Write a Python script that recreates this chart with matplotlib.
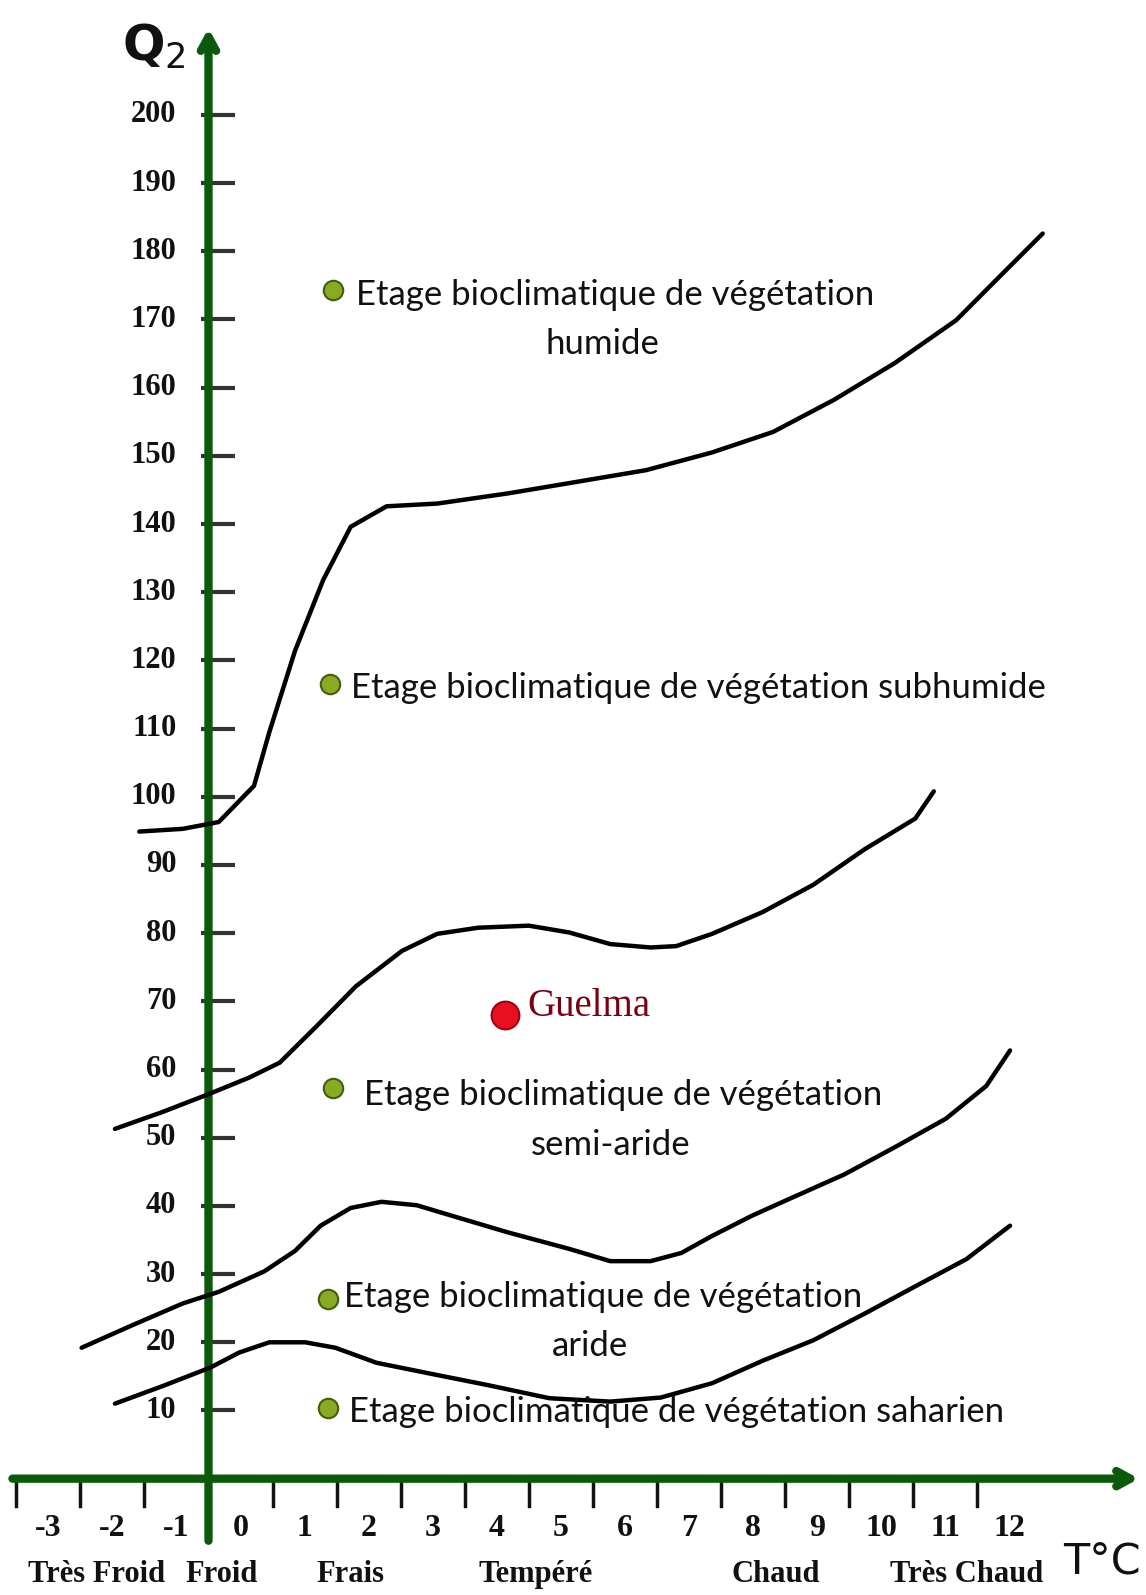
import matplotlib
matplotlib.use("Agg")
import matplotlib.pyplot as plt

# ---------------- data ----------------
x_tick_labels = list(range(-3, 13))
x_tick_marks = [v + 0.5 for v in range(-4, 12) if v != -1]
y_ticks = list(range(10, 201, 10))

categories = ["Très Froid", "Froid", "Frais", "Tempéré", "Chaud", "Très Chaud"]
category_x = [-2.25, -0.29, 1.72, 4.61, 8.36, 11.33]

# boundary curves (T °C, Q2)
c1_x = [-1.58, -0.90, -0.34, 0.21, 0.45, 0.85, 1.29, 1.72, 2.28, 3.07, 4.18, 5.13, 6.33, 7.36, 8.31, 9.26, 10.21, 11.17, 11.88, 12.52]
c1_y = [94.9, 95.3, 96.3, 101.6, 109.5, 121.4, 131.8, 139.6, 142.6, 143.0, 144.5, 146.0, 147.9, 150.5, 153.5, 158.2, 163.6, 169.9, 176.6, 182.6]

c2_x = [-1.96, -1.21, -0.47, 0.13, 0.61, 1.17, 1.80, 2.52, 3.07, 3.71, 4.50, 5.13, 5.77, 6.40, 6.80, 7.36, 8.15, 8.94, 9.74, 10.53, 10.82]
c2_y = [51.3, 53.8, 56.5, 58.8, 61.0, 66.2, 72.2, 77.4, 79.9, 80.8, 81.1, 80.1, 78.4, 77.9, 78.1, 79.9, 83.1, 87.1, 92.3, 96.8, 100.8]

c3_x = [-2.48, -1.69, -0.90, -0.34, 0.37, 0.85, 1.25, 1.72, 2.20, 2.75, 3.39, 4.18, 5.13, 5.77, 6.40, 6.88, 7.36, 7.99, 8.63, 9.42, 10.21, 11.01, 11.64, 12.01]
c3_y = [19.2, 22.5, 25.7, 27.4, 30.4, 33.4, 37.1, 39.7, 40.6, 40.1, 38.3, 36.1, 33.7, 31.9, 31.9, 33.1, 35.6, 38.6, 41.3, 44.6, 48.6, 52.8, 57.6, 62.8]

c4_x = [-1.96, -1.21, -0.47, -0.02, 0.45, 1.01, 1.48, 2.12, 2.91, 3.87, 4.82, 5.77, 6.56, 7.36, 8.15, 8.94, 9.74, 10.53, 11.33, 12.01]
c4_y = [11.0, 13.6, 16.3, 18.5, 20.0, 20.0, 19.2, 17.0, 15.5, 13.7, 11.8, 11.3, 11.9, 14.0, 17.3, 20.3, 24.2, 28.2, 32.2, 37.1]

station_name = "Guelma"
station_x = [4.13]
station_y = [68.0]

zone_labels = ["Etage bioclimatique de végétation\nhumide",
               "Etage bioclimatique de végétation subhumide",
               "Etage bioclimatique de végétation\nsemi-aride",
               "Etage bioclimatique de végétation\naride",
               "Etage bioclimatique de végétation saharien"]

# ---------------- figure ----------------
GREEN = "#0b5a0b"
fig = plt.figure(figsize=(11.46, 15.95), dpi=100)
ax = fig.add_axes([0, 0, 1, 1])
ax.set_xlim(-3.754, 14.132)
ax.set_ylim(-17.06, 216.85)
ax.axis("off")

num_font = ["Liberation Serif", "DejaVu Serif"]
txt_font = ["Lato", "DejaVu Sans"]

# axes (green arrows)
ax.annotate("", xy=(14.02, 0), xytext=(-3.56, 0),
            arrowprops=dict(arrowstyle="->,head_length=1.0,head_width=0.55",
                            lw=6, color=GREEN, shrinkA=0, shrinkB=0))
ax.annotate("", xy=(-0.5, 212.7), xytext=(-0.5, -9.1),
            arrowprops=dict(arrowstyle="->,head_length=1.0,head_width=0.55",
                            lw=6, color=GREEN, shrinkA=0, shrinkB=0))

# y ticks
for v in y_ticks:
    ax.plot([-0.61, -0.09], [v, v], color="#333333", lw=3, solid_capstyle="butt", zorder=1)
    ax.text(-1.0, v, str(v), ha="right", va="center", fontsize=22,
            family=num_font, fontweight="bold", color="#111111")

# x ticks
for t in x_tick_marks:
    ax.plot([t, t], [0, -4.0], color="#111111", lw=2.5, zorder=1)
for t in x_tick_labels:
    ax.text(t, -7.3, str(t), ha="center", va="center", fontsize=23,
            family=num_font, fontweight="bold", color="#111111")
for name, cx in zip(categories, category_x):
    ax.text(cx, -14.0, name, ha="center", va="center", fontsize=22,
            family=num_font, fontweight="bold", color="#111111")

ax.text(-0.85, 210.1, "Q$_2$", ha="right", va="center", fontsize=36,
        family=["DejaVu Sans"], fontweight="bold", color="#111111")
ax.text(13.45, -12.1, "T°C", ha="center", va="center", fontsize=31,
        family=["DejaVu Sans"], color="#111111")

# curves
for xs, ys in [(c1_x, c1_y), (c2_x, c2_y), (c3_x, c3_y), (c4_x, c4_y)]:
    ax.plot(xs, ys, color="black", lw=3.2, solid_capstyle="round",
            solid_joinstyle="round", zorder=3)

# zone labels with bullets
label_pos = [(1.80, 173.6, 1.45, 174.3), (1.72, 116.0, 1.40, 116.5),
             (1.93, 56.2, 1.45, 57.3), (1.61, 26.7, 1.36, 26.4),
             (1.69, 9.8, 1.36, 10.3)]
for lab, (tx, ty, bx, by) in zip(zone_labels, label_pos):
    parts = lab.split("\n")
    ax.text(tx, ty, parts[0], ha="left", va="center", fontsize=25,
            family=txt_font, color="#111111", zorder=4)
    if len(parts) > 1:
        ax.text(tx + 3.85, ty - 7.2, parts[1], ha="center", va="center", fontsize=25,
                family=txt_font, color="#111111", zorder=4)
    ax.plot([bx], [by], marker="o", markersize=14, color="#8aaa22",
            markeredgecolor="#3f5f0f", markeredgewidth=1.5, zorder=5)

# station
ax.plot(station_x, station_y, marker="o", markersize=20, color="#e8101e",
        markeredgecolor="#a00010", markeredgewidth=1.5, linestyle="none", zorder=6)
ax.text(station_x[0] + 0.34, station_y[0] + 1.2, station_name, ha="left", va="center",
        fontsize=28, family=["Liberation Serif", "DejaVu Serif"], color="#7a0010", zorder=6)

fig.savefig("out.png", dpi=100)
